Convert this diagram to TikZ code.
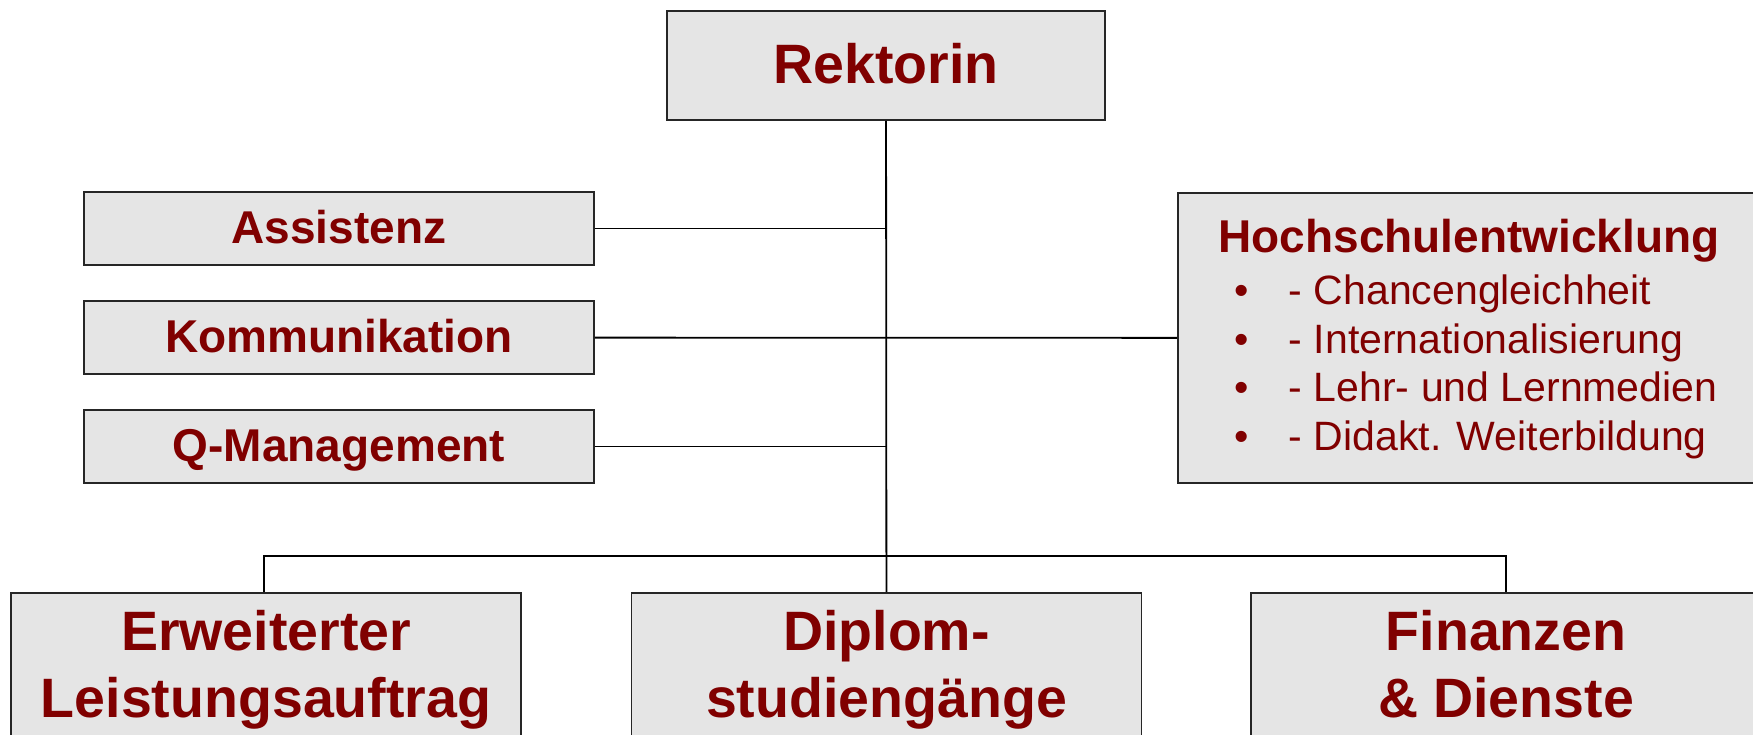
\documentclass[tikz,border=0pt]{standalone}
\usepackage{fontspec}
\setmainfont{Liberation Sans}
\usepackage{xcolor}
\definecolor{orgred}{HTML}{800000}
\definecolor{orgfill}{HTML}{E5E5E5}

\begin{document}
\begin{tikzpicture}[x=1pt, y=-1pt, line width=1.8pt,
    box/.style = {draw=black!85, fill=orgfill, inner sep=0pt, text=orgred},
    big/.style = {font=\fontsize{55.5}{60}\selectfont\bfseries, text height=40pt, text depth=3pt},
    mid/.style = {font=\fontsize{46}{50}\selectfont\bfseries, text height=33pt, text depth=3pt},
    line/.style = {text=orgred, inner sep=0pt, anchor=base},
    item/.style = {font=\fontsize{41}{45}\selectfont, text=orgred, inner sep=0pt}]
    \useasboundingbox (0,0) rectangle (1753,735);
    \clip (0,0) rectangle (1753,735);

    \node[box, big, minimum width=438, minimum height=109] (rek) at (886,65.5) {Rektorin};
    \node[box, mid, minimum width=510, minimum height=73] (ass) at (339,228.5) {Assistenz};
    \node[box, mid, minimum width=510, minimum height=73] (kom) at (339,337.5) {Kommunikation};
    \node[box, mid, minimum width=510, minimum height=73] (qm) at (339,446.5) {Q-Management};
    \node[box, minimum width=586, minimum height=290] (hse) at (1471,338) {};

    \node[box, minimum width=510, minimum height=200] (elb) at (266,693) {};
    \node[box, minimum width=510, minimum height=200] (dip) at (886.5,693) {};
    \node[box, minimum width=510, minimum height=200] (fin) at (1506,693) {};

    % text of the lower boxes
    \node[line, big] (elb1) at (266,650) {Erweiterter};
    \node[line, big] (elb2) at (266,717) {Leistungsauftrag};
    \node[line, big] (dip1) at (886.5,650) {Diplom-};
    \node[line, big] (dip2) at (886.5,717) {studiengänge};
    \node[line, big] (fin1) at (1506,650) {Finanzen};
    \node[line, big] (fin2) at (1506,717) {\& Dienste};

    \node[line, font=\fontsize{46}{50}\selectfont\bfseries] (hse0) at (1469,253) {Hochschulentwicklung};
    \foreach \t [count=\i] in {Chancengleichheit, Internationalisierung, Lehr- und Lernmedien, Didakt. Weiterbildung} {
        \node[item, anchor=base] (dot\i) at (1242,{305+(\i-1)*48.4}) {•};
        \node[item, anchor=base west] (item\i) at (1288,{305+(\i-1)*48.4}) {- \t};
    }

    \coordinate (bar) at (886,556);
    \draw (ass) -- (ass -| rek);
    \draw (kom) -- (hse);
    \draw (qm) -- (qm -| rek);
    \draw (rek) -- (dip);
    \draw ([xshift=-2pt]elb.north) |- (bar) -| (fin);
\end{tikzpicture}
\end{document}
